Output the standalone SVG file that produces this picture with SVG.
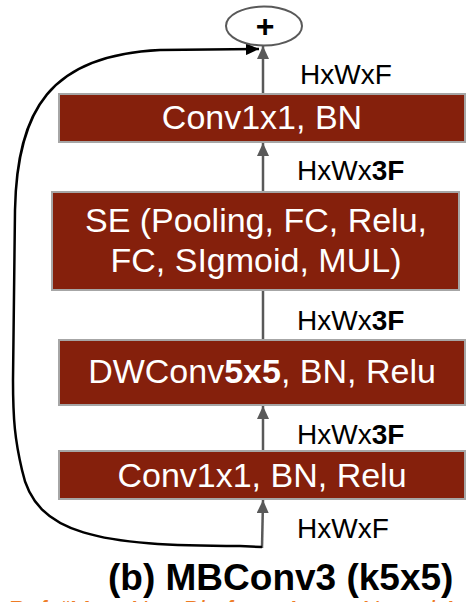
<svg xmlns="http://www.w3.org/2000/svg" width="474" height="602" viewBox="0 0 474 602">
<style>
.box{fill:#85200c;stroke:#a6a6a6;stroke-width:2}
.bt{font-family:"Liberation Sans",Arial,sans-serif;font-size:34px;fill:#ffffff;text-anchor:middle}
.lbl{font-family:"Liberation Sans",Arial,sans-serif;font-size:28px;fill:#000000}
.g{stroke:#595959;stroke-width:2.5;fill:none}
.k{stroke:#000000;stroke-width:2.5;fill:none}
</style>
<defs>
<marker id="ag" viewBox="0 0 13 12" refX="13" refY="6" markerWidth="13" markerHeight="12" orient="auto" markerUnits="userSpaceOnUse">
<path d="M0,0 L13,6 L0,12 z" fill="#595959"/>
</marker>
<marker id="ak" viewBox="0 0 13 12" refX="13" refY="6" markerWidth="13" markerHeight="12" orient="auto" markerUnits="userSpaceOnUse">
<path d="M0,0 L13,6 L0,12 z" fill="#000000"/>
</marker>
</defs>
<g id="connectors">
<line class="g" x1="263" y1="93" x2="263" y2="46" marker-end="url(#ag)"/>
<line class="g" x1="263" y1="192" x2="263" y2="143" marker-end="url(#ag)"/>
<line class="g" x1="263" y1="340" x2="263" y2="290"/>
<line class="g" x1="263" y1="451" x2="263" y2="406" marker-end="url(#ag)"/>
<line class="g" x1="262" y1="548" x2="263" y2="500" marker-end="url(#ag)"/>
<path class="k" d="M262 547 L240 546 C100 546,35 535,22 470 C15 440,13 420,13 380 L15 210 C17 110,50 55,160 50 L259 49" marker-end="url(#ak)"/>
</g>
<g id="add">
<ellipse cx="264" cy="26" rx="38" ry="19.5" fill="#ffffff" stroke="#595959" stroke-width="2"/>
<text x="265" y="37" font-family="Liberation Sans,Arial,sans-serif" font-size="32" font-weight="bold" text-anchor="middle">+</text>
</g>
<g id="conv_project">
<rect class="box" x="59" y="94" width="406" height="48"/>
<text class="bt" x="262" y="129">Conv1x1, BN</text>
</g>
<g id="se">
<rect class="box" x="52" y="192" width="407" height="98"/>
<text class="bt" x="256" y="232">SE (Pooling, FC, Relu,</text>
<text class="bt" x="256" y="272">FC, SIgmoid, MUL)</text>
</g>
<g id="dwconv">
<rect class="box" x="59" y="340" width="406" height="65"/>
<text class="bt" x="262" y="383">DWConv<tspan font-weight="bold">5x5</tspan>, BN, Relu</text>
</g>
<g id="conv_expand">
<rect class="box" x="59" y="451" width="406" height="48"/>
<text class="bt" x="262" y="487">Conv1x1, BN, Relu</text>
</g>
<g id="labels">
<text class="lbl" x="300" y="84">HxWxF</text>
<text class="lbl" x="297" y="180">HxWx<tspan font-weight="bold">3F</tspan></text>
<text class="lbl" x="297" y="330">HxWx<tspan font-weight="bold">3F</tspan></text>
<text class="lbl" x="297" y="444">HxWx<tspan font-weight="bold">3F</tspan></text>
<text class="lbl" x="297" y="538">HxWxF</text>
</g>
<g id="caption">
<text x="108" y="590" font-family="Liberation Sans,Arial,sans-serif" font-size="37" font-weight="bold" fill="#000000">(b) MBConv3 (k5x5)</text>
<text x="7" y="619" font-family="Liberation Sans,Arial,sans-serif" font-size="25" font-style="italic" fill="#ee7b25">Ref: “MnasNet: Platform-Aware Neural Architecture Search for Mobile”</text>
</g>
</svg>
